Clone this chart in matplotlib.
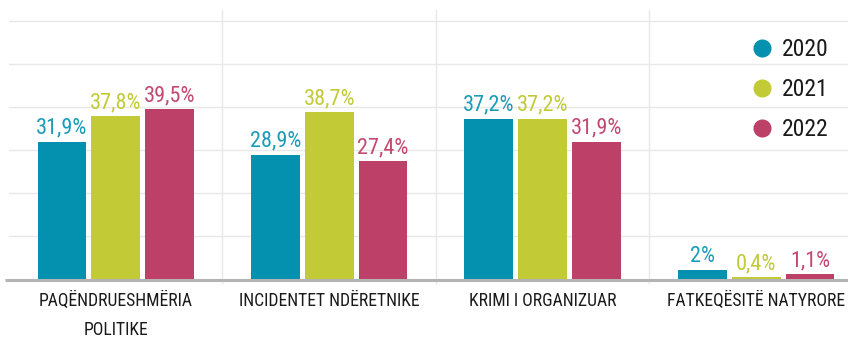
import matplotlib
matplotlib.use("Agg")
import matplotlib.pyplot as plt
from matplotlib.lines import Line2D
import numpy as np

categories = ["PAQËNDRUESHMËRIA\nPOLITIKE", "INCIDENTET NDËRETNIKE",
              "KRIMI I ORGANIZUAR", "FATKEQËSITË NATYRORE"]
years = ["2020", "2021", "2022"]
vals_2020 = [31.9, 28.9, 37.2, 2.0]
vals_2021 = [37.8, 38.7, 37.2, 0.4]
vals_2022 = [39.5, 27.4, 31.9, 1.1]
labels_2020 = ["31,9%", "28,9%", "37,2%", "2%"]
labels_2021 = ["37,8%", "38,7%", "37,2%", "0,4%"]
labels_2022 = ["39,5%", "27,4%", "31,9%", "1,1%"]

colors = ["#0391af", "#c2cb36", "#bd4068"]
label_colors = ["#1a9cb8", "#c2cb36", "#c24a70"]

plt.rcParams['font.family'] = ['Roboto Condensed', 'Open Sans Condensed',
                               'Roboto', 'DejaVu Sans']

fig = plt.figure(figsize=(8.48, 3.45), dpi=100)
ax = fig.add_axes([9/848, 66/345, 839/848, 269/345])

x = np.arange(len(categories))
w = 0.229
step = 0.252
series = [vals_2020, vals_2021, vals_2022]
texts = [labels_2020, labels_2021, labels_2022]

for i, (vals, labs) in enumerate(zip(series, texts)):
    pos = x + (i - 1) * step
    ax.bar(pos, vals, width=w, color=colors[i], zorder=3)
    for p, v, t in zip(pos, vals, labs):
        ax.text(p, v + 0.7, t, ha='center', va='bottom', fontsize=16,
                color=label_colors[i], zorder=4)

ax.set_xlim(-0.5, 3.43)
ax.set_ylim(0, 62.5)

for y in range(10, 61, 10):
    ax.axhline(y, color='#e8e8e8', lw=1, zorder=1)
for xs in [0.5, 1.5, 2.5]:
    ax.axvline(xs, ymin=-0.015, ymax=1, color='#e8e8e8', lw=1, zorder=1, clip_on=False)
# grey base line sits just under the bars
ax.plot([-0.52, 3.43], [-0.3, -0.3], color='#b4b4b4', lw=2.2, zorder=2,
        clip_on=False, solid_capstyle='butt')

ax.set_xticks(x)
ax.set_xticklabels(categories, fontsize=12.7, color='#1a1a1a', linespacing=1.8)
ax.tick_params(axis='x', length=0, pad=9)
ax.set_yticks([])
for s in ax.spines.values():
    s.set_visible(False)

handles = [Line2D([], [], marker='o', ls='', ms=12, color=c) for c in colors]
ax.legend(handles, years, loc='upper right', bbox_to_anchor=(1.002, 0.975),
          frameon=False, fontsize=17, labelspacing=0.72, handletextpad=0.35,
          handlelength=1.0, labelcolor='#1a1a1a')

fig.savefig("out.png", dpi=100)
